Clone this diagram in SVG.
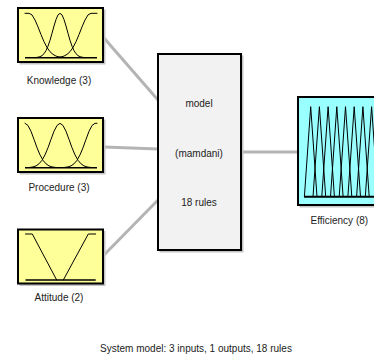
<svg xmlns="http://www.w3.org/2000/svg" width="374" height="358" viewBox="0 0 374 358">
<style>
text{font-family:"Liberation Sans",Arial,sans-serif;font-size:10px;fill:#222;text-anchor:middle}
.box{stroke:#000;stroke-width:2}
.shadow{fill:#c4c4c4}
.in{fill:#ffff99}
.mid{fill:#f2f2f2}
.out{fill:#99ffff}
.mf{fill:none;stroke:#000;stroke-width:1;stroke-linejoin:round;stroke-linecap:round}
.base{fill:none;stroke:#000;stroke-width:1.6}
.conn line{stroke:#b4b4b4;stroke-width:3}
</style>
<rect width="374" height="358" fill="#fff"/>
<g class="conn" id="connectors">
<line x1="104" y1="38" x2="158" y2="100"/>
<line x1="104" y1="147" x2="158" y2="149"/>
<line x1="104" y1="255" x2="158" y2="200"/>
<line x1="241" y1="152" x2="298" y2="152"/>
</g>
<g id="knowledge">
<rect class="shadow" x="19.5" y="9.5" width="86" height="55"/>
<rect class="box in" x="18" y="8" width="85" height="54"/>
<polyline class="mf" points="25,13.3 29,13.3 32,14.9 35,20 38,26.9 41,34.6 44,41.7 47,47.5 50,51.7 53,54.4 56,56.1 59,56.95 62,57.4 65,57.6"/>
<polyline class="mf" points="36,57.5 38,57.2 40,56.7 42,55.6 44,53.7 46,50.6 48,46.2 50,40.3 52,33.3 54,26 56,19.5 58,14.9 60,13.3 62,14.9 64,19.5 66,26 68,33.3 70,40.3 72,46.2 74,50.6 76,53.7 78,55.6 80,56.7 82,57.2 84,57.5"/>
<polyline class="mf" points="97,13.3 91,13.3 88,14.9 85,20 82,26.9 79,34.6 76,41.7 73,47.5 70,51.7 67,54.4 64,56.1 61,56.95 58,57.4 55,57.6"/>
<line class="base" x1="25" y1="57.7" x2="97" y2="57.7"/>
<text x="59" y="83.5">Knowledge (3)</text>
</g>
<g id="procedure">
<g transform="translate(0,110)">
<rect class="shadow" x="19.5" y="9.5" width="86" height="55"/>
<rect class="box in" x="18" y="8" width="85" height="54"/>
<polyline class="mf" points="25,13.3 28,15.5 31,21.3 34,29.4 37,37.7 40,44.9 43,50.3 46,53.8 49,55.9 52,56.9 55,57.4 58,57.6"/>
<polyline class="mf" points="27,57.6 30,57.4 33,56.9 36,55.9 39,53.8 42,50.3 45,44.9 48,37.7 51,29.4 54,21.3 57,15.5 60,13.3 63,15.5 66,21.3 69,29.4 72,37.7 75,44.9 78,50.3 81,53.8 84,55.9 87,56.9 90,57.4 93,57.6"/>
<polyline class="mf" points="97,13.3 95,13.3 92,15.5 89,21.3 86,29.4 83,37.7 80,44.9 77,50.3 74,53.8 71,55.9 68,56.9 65,57.4 62,57.6"/>
<line class="base" x1="25" y1="57.7" x2="97" y2="57.7"/>
</g>
<text x="59" y="190.7">Procedure (3)</text>
</g>
<g id="attitude">
<rect class="shadow" x="19.5" y="231" width="86" height="55"/>
<rect class="box in" x="18" y="229.5" width="85" height="54"/>
<polyline class="mf" points="25.5,234 32.3,234 56.7,280"/>
<polyline class="mf" points="63.3,280 88.3,234 95.7,234"/>
<line class="base" x1="25.5" y1="280" x2="95.7" y2="280"/>
<text x="59" y="300.7">Attitude (2)</text>
</g>
<g id="model">
<rect class="shadow" x="159.5" y="55.5" width="84" height="197"/>
<rect class="box mid" x="158" y="54" width="83" height="196"/>
<text x="199" y="106.7">model</text>
<text x="199" y="156.5">(mamdani)</text>
<text x="199" y="206">18 rules</text>
</g>
<g id="efficiency">
<rect class="shadow" x="299.5" y="98.5" width="87" height="109"/>
<rect class="box out" x="298" y="97" width="86" height="108"/>
<polyline class="mf" points="304.4,196.7 310.7,106.7 317,196.7"/>
<polyline class="mf" points="313,196.7 319.4,106.7 325.7,196.7"/>
<polyline class="mf" points="321.8,196.7 328.1,106.7 334.4,196.7"/>
<polyline class="mf" points="330.5,196.7 336.8,106.7 343.1,196.7"/>
<polyline class="mf" points="339.2,196.7 345.5,106.7 351.8,196.7"/>
<polyline class="mf" points="347.9,196.7 354.2,106.7 360.5,196.7"/>
<polyline class="mf" points="356.6,196.7 362.9,106.7 369.2,196.7"/>
<polyline class="mf" points="365.3,196.7 371.6,106.7 377.9,196.7"/>
<line class="base" x1="304" y1="196.7" x2="378" y2="196.7" style="stroke-width:2"/>
<text x="339.3" y="224.3">Efficiency (8)</text>
</g>
<text x="196" y="351.7">System model: 3 inputs, 1 outputs, 18 rules</text>
</svg>
